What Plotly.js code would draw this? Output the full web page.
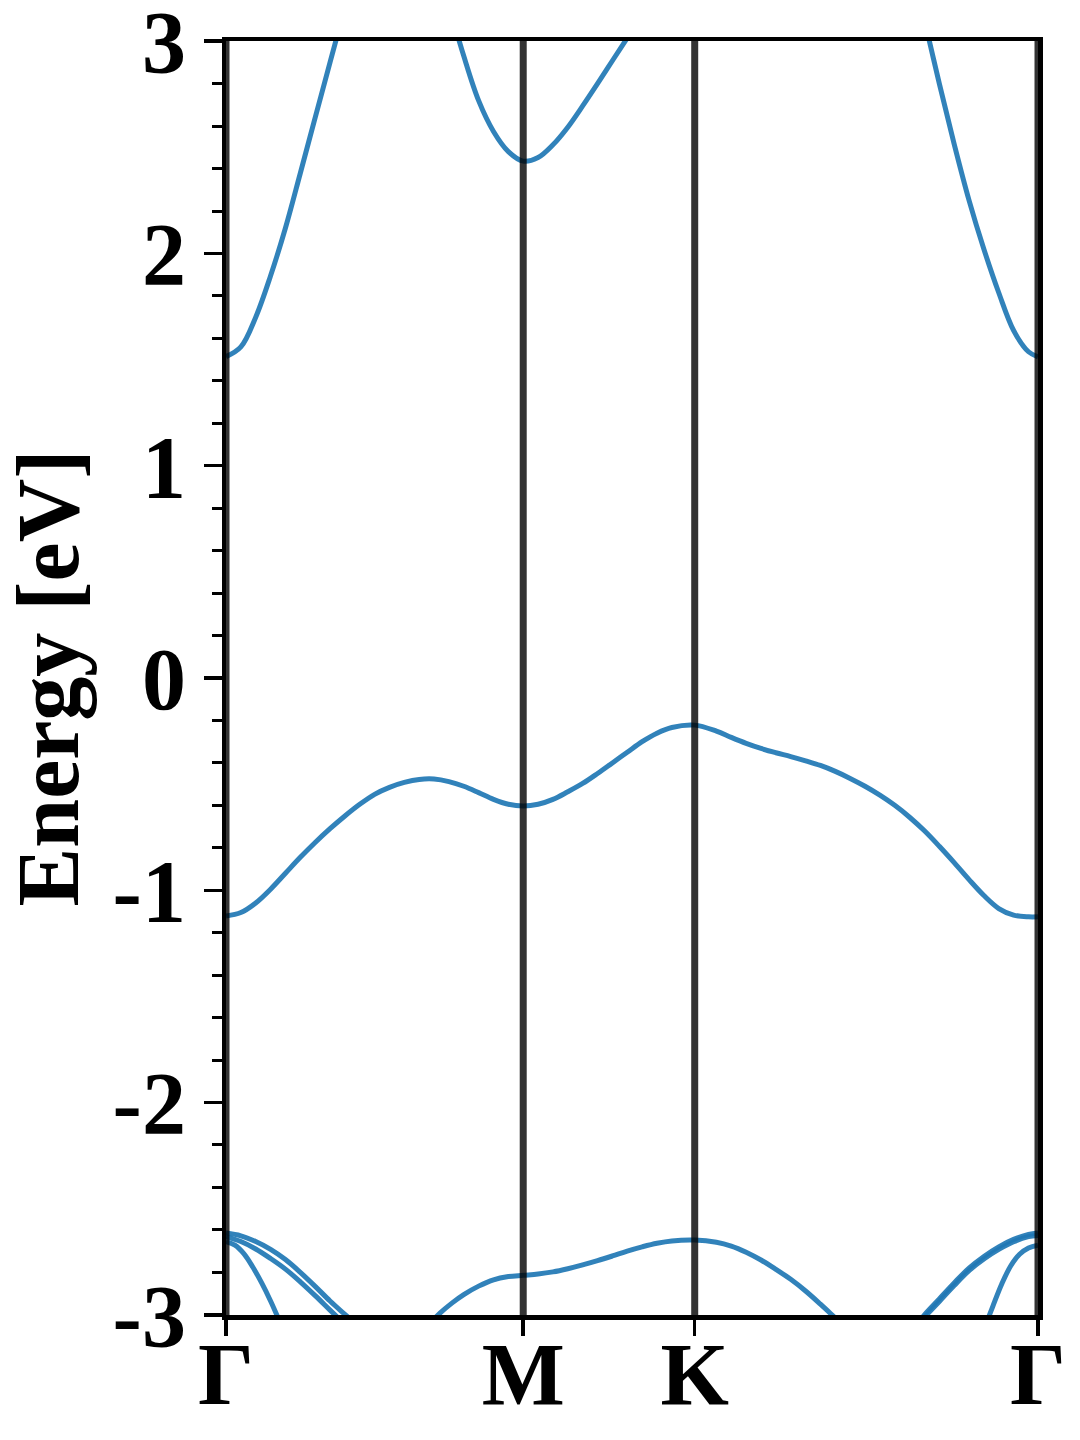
<!DOCTYPE html>
<html>
<head>
<meta charset="utf-8">
<script src="https://cdn.plot.ly/plotly-3.0.1.min.js"></script>
<style>html,body{margin:0;padding:0;background:#fff;}#chart{width:1080px;height:1440px;}</style>
</head>
<body>
<div id="chart"></div>
<script>
// High-symmetry points along the path
const kPoints = [0, 1, 1.577, 2.732];
const kLabels = ['Γ', 'M', 'K', 'Γ'];
const yTickVals = [-3, -2, -1, 0, 1, 2, 3];
const yTickText = ['-3', '-2', '-1', '0', '1', '2', '3'];

// Conduction band pieces (values above 3 eV get clipped)
const cbLeftK = [0, 0.05, 0.1, 0.15, 0.2, 0.25, 0.3, 0.35, 0.4];
const cbLeftE = [1.514, 1.56, 1.70, 1.895, 2.12, 2.378, 2.64, 2.90, 3.16];
const cbMidK = [0.75, 0.8, 0.85, 0.9, 0.95, 1.0, 1.05, 1.1, 1.15, 1.2, 1.25, 1.3, 1.35, 1.4];
const cbMidE = [3.17, 2.93, 2.72, 2.575, 2.48, 2.435, 2.452, 2.512, 2.595, 2.695, 2.80, 2.908, 3.015, 3.12];
const cbRightK = [2.31, 2.35, 2.4, 2.45, 2.5, 2.55, 2.6, 2.65, 2.7, 2.732];
const cbRightE = [3.33, 3.10, 2.80, 2.515, 2.25, 2.02, 1.815, 1.637, 1.537, 1.513];

// Top valence band
const vbK = [0, 0.05, 0.1, 0.15, 0.2, 0.25, 0.3, 0.35, 0.4, 0.45, 0.5, 0.55, 0.6, 0.65, 0.7, 0.75, 0.8, 0.85, 0.9, 0.95, 1.0,
  1.05, 1.1, 1.15, 1.2, 1.25, 1.3, 1.35, 1.4, 1.45, 1.5, 1.577,
  1.65, 1.7, 1.75, 1.8, 1.85, 1.9, 1.95, 2.0, 2.05, 2.1, 2.15, 2.2, 2.25, 2.3, 2.35, 2.4, 2.45, 2.5, 2.55, 2.6, 2.65, 2.7, 2.732];
const vbE = [-1.121, -1.105, -1.06, -0.995, -0.92, -0.845, -0.775, -0.71, -0.65, -0.595, -0.548, -0.515, -0.492, -0.478, -0.476, -0.488, -0.51, -0.54, -0.572, -0.595, -0.603,
  -0.595, -0.572, -0.536, -0.497, -0.45, -0.40, -0.35, -0.30, -0.26, -0.233, -0.222,
  -0.25, -0.28, -0.308, -0.332, -0.352, -0.37, -0.39, -0.412, -0.44, -0.473, -0.51, -0.552, -0.6, -0.656, -0.72, -0.793, -0.87, -0.95, -1.025, -1.086, -1.117, -1.125, -1.125];

// Deeper valence bands
const bandALeftK = [0, 0.05, 0.1, 0.15, 0.2, 0.25, 0.3, 0.35, 0.4, 0.45];
const bandALeftE = [-2.615, -2.628, -2.655, -2.692, -2.74, -2.80, -2.866, -2.935, -2.998, -3.06];
const bandBLeftK = [0, 0.05, 0.1, 0.15, 0.2, 0.25, 0.3, 0.35, 0.4];
const bandBLeftE = [-2.632, -2.655, -2.69, -2.735, -2.785, -2.845, -2.91, -2.978, -3.045];
const bandCLeftK = [0, 0.03, 0.06, 0.09, 0.12, 0.15, 0.18];
const bandCLeftE = [-2.655, -2.672, -2.712, -2.775, -2.85, -2.935, -3.03];
const bandDK = [0.68, 0.72, 0.76, 0.8, 0.85, 0.9, 0.95, 1.0, 1.05, 1.1, 1.15, 1.2, 1.25, 1.3, 1.35, 1.4, 1.45, 1.5, 1.577,
  1.65, 1.7, 1.75, 1.8, 1.85, 1.9, 1.95, 2.0, 2.05, 2.1];
const bandDE = [-3.05, -2.992, -2.945, -2.905, -2.865, -2.835, -2.82, -2.814, -2.808, -2.798, -2.783, -2.765, -2.745, -2.723, -2.70, -2.68, -2.663, -2.652, -2.648,
  -2.658, -2.676, -2.705, -2.742, -2.786, -2.833, -2.888, -2.95, -3.015, -3.08];
const bandARightK = [2.3, 2.35, 2.4, 2.45, 2.5, 2.55, 2.6, 2.65, 2.7, 2.732];
const bandARightE = [-3.09, -3.0, -2.925, -2.85, -2.78, -2.725, -2.68, -2.645, -2.622, -2.615];
const bandBRightE = [-3.10, -3.012, -2.937, -2.862, -2.792, -2.737, -2.692, -2.656, -2.632, -2.626];
const bandCRightK = [2.55, 2.58, 2.61, 2.64, 2.67, 2.7, 2.732];
const bandCRightE = [-3.07, -2.96, -2.855, -2.77, -2.715, -2.685, -2.672];

const bandColor = 'rgba(31,119,180,0.92)';
const pieces = [
  [cbLeftK, cbLeftE], [cbMidK, cbMidE], [cbRightK, cbRightE],
  [vbK, vbE],
  [bandALeftK, bandALeftE], [bandBLeftK, bandBLeftE], [bandCLeftK, bandCLeftE],
  [bandDK, bandDE],
  [bandARightK, bandARightE], [bandARightK, bandBRightE], [bandCRightK, bandCRightE]
];
const traces = pieces.map(p => ({
  x: p[0], y: p[1], type: 'scatter', mode: 'lines',
  line: {color: bandColor, width: 5, shape: 'spline', smoothing: 1},
  hoverinfo: 'skip', showlegend: false
}));

const shapes = kPoints.map(k => ({
  type: 'line', xref: 'x', yref: 'paper', x0: k, x1: k, y0: 0, y1: 1,
  line: {color: 'rgba(0,0,0,0.8)', width: 7}, layer: 'above'
}));

const font = {family: 'Liberation Serif, Times New Roman, serif', size: 88, color: '#000', weight: 'bold'};

const layout = {
  width: 1080, height: 1440,
  margin: {l: 226, r: 42, t: 41, b: 125},
  paper_bgcolor: '#fff', plot_bgcolor: '#fff',
  showlegend: false,
  font: font,
  xaxis: {
    range: [kPoints[0], kPoints[kPoints.length - 1]],
    tickvals: kPoints, ticktext: kLabels,
    ticks: 'outside', ticklen: 16, tickwidth: 3.5, tickcolor: '#000',
    showline: true, linecolor: '#000', linewidth: 4.5, mirror: true,
    showgrid: false, zeroline: false,
    tickfont: font,
    ticklabelstandoff: -37,
    ticklabeloverflow: 'allow'
  },
  yaxis: {
    range: [-3.001, 3.001],
    tickvals: yTickVals, ticktext: yTickText,
    ticks: 'outside', ticklen: 18, tickwidth: 3.5, tickcolor: '#000',
    minor: {dtick: 0.2, ticks: 'outside', ticklen: 10, tickwidth: 3, tickcolor: '#000', showgrid: false},
    showline: true, linecolor: '#000', linewidth: 4.5, mirror: true,
    showgrid: false, zeroline: false,
    tickfont: font,
    ticklabeloverflow: 'allow',
    title: {text: 'Energy [eV]', font: font, standoff: 27}
  },
  shapes: shapes
};

Plotly.newPlot('chart', traces, layout, {displayModeBar: false, staticPlot: true});
</script>
</body>
</html>
